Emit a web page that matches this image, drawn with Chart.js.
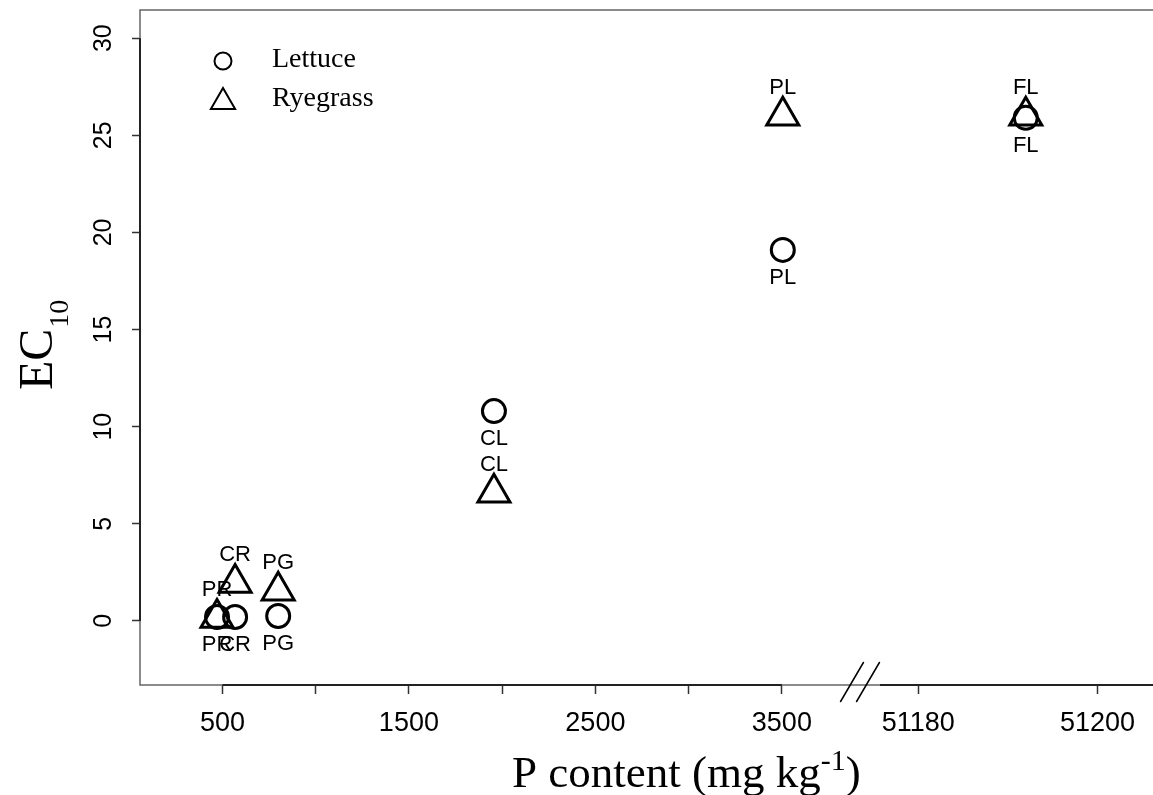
<!DOCTYPE html>
<html><head><meta charset="utf-8">
<script src="https://cdn.jsdelivr.net/npm/chart.js@4.4.0/dist/chart.umd.min.js"></script>
<style>html,body{margin:0;padding:0;background:#fff;}#wrap{width:1153px;height:795px;}</style>
</head><body><div id="wrap"><canvas id="c" width="1153" height="795"></canvas></div>
<script>
// ---- data ----
const soilCodes = ['PR', 'CR', 'PG', 'CL', 'PL', 'FL'];
const pContent = [471, 568, 799, 1956, 3505, 51192];
const lettuceEC10 = [0.2, 0.2, 0.25, 10.8, 19.1, 25.9];
const ryegrassEC10 = [0.15, 1.95, 1.55, 6.6, 26.0, 26.0];
const seriesNames = ['Lettuce', 'Ryegrass'];
const yTicks = [0, 5, 10, 15, 20, 25, 30];
const yTickLabels = ['0', '5', '10', '15', '20', '25', '30'];
const xTicksLeft = [500, 1000, 1500, 2000, 2500, 3000, 3500];
const xTickLabelsLeft = ['500', '', '1500', '', '2500', '', '3500'];
const xTicksRight = [51180, 51200];
const xTickLabelsRight = ['51180', '51200'];
const breakValue = 10000;
const xTitleParts = ['P content (mg kg', '-1', ')'];
const yTitleParts = ['EC', '10'];

const SANS = '"Liberation Sans", Arial, Helvetica, sans-serif';
const SERIF = '"Liberation Serif", "Times New Roman", Times, serif';

function pts(ys, right) {
  return pContent.map((x, i) => ({x: x, y: ys[i], code: soilCodes[i]}))
    .filter(p => right ? p.x > breakValue : p.x <= breakValue);
}
function ds(name, ys, right, style, r, pos) {
  return {
    label: name, data: pts(ys, right), xAxisID: right ? 'x2' : 'x',
    pointStyle: style, pointRadius: r, pointHoverRadius: r,
    pointBorderWidth: 3, pointHoverBorderWidth: 3,
    pointBorderColor: '#000', pointBackgroundColor: 'rgba(0,0,0,0)',
    showLine: false, labelPos: pos
  };
}
const datasets = [
  ds(seriesNames[0], lettuceEC10, false, 'circle', 11.5, 'below'),
  ds(seriesNames[0], lettuceEC10, true, 'circle', 11.5, 'below'),
  ds(seriesNames[1], ryegrassEC10, false, 'triangle', 18.5, 'above'),
  ds(seriesNames[1], ryegrassEC10, true, 'triangle', 18.5, 'above')
];

const decor = {
  id: 'decor',
  afterDatasetsDraw(chart) {
    const ctx = chart.ctx;
    const {left, top, right, bottom} = chart.chartArea;
    const sx = chart.scales.x, sx2 = chart.scales.x2, sy = chart.scales.y;
    ctx.save();
    // box (right edge falls at the canvas edge)
    ctx.strokeStyle = '#666'; ctx.lineWidth = 1.5;
    ctx.beginPath();
    ctx.moveTo(right, top); ctx.lineTo(left, top); ctx.lineTo(left, bottom); ctx.lineTo(right, bottom);
    ctx.stroke();
    // axis lines
    ctx.strokeStyle = '#222'; ctx.lineWidth = 2;
    ctx.beginPath();
    ctx.moveTo(sx.getPixelForValue(xTicksLeft[0]), bottom);
    ctx.lineTo(sx.getPixelForValue(xTicksLeft[xTicksLeft.length - 1]), bottom);
    ctx.moveTo(sx2.left + 20, bottom);
    ctx.lineTo(right, bottom);
    ctx.moveTo(left, sy.getPixelForValue(yTicks[0]));
    ctx.lineTo(left, sy.getPixelForValue(yTicks[yTicks.length - 1]));
    ctx.stroke();
    // break marks
    const bx = sx2.left;
    ctx.strokeStyle = '#000'; ctx.lineWidth = 1.5;
    ctx.beginPath();
    [-8, 8].forEach(d => {
      ctx.moveTo(bx + d - 11.7, bottom + 17);
      ctx.lineTo(bx + d + 11.7, bottom - 23);
    });
    ctx.stroke();
    // y tick labels
    ctx.fillStyle = '#000';
    ctx.font = '25px ' + SANS;
    ctx.textAlign = 'center'; ctx.textBaseline = 'middle';
    yTicks.forEach((v, i) => {
      ctx.save();
      ctx.translate(left - 36, sy.getPixelForValue(v));
      ctx.rotate(-Math.PI / 2);
      ctx.fillText(yTickLabels[i], 0, 0);
      ctx.restore();
    });
    // point labels
    ctx.font = '22px ' + SANS;
    chart.data.datasets.forEach((d, i) => {
      const meta = chart.getDatasetMeta(i);
      meta.data.forEach((el, j) => {
        const off = d.labelPos === 'below' ? 28 : -28;
        ctx.fillText(d.data[j].code, el.x, el.y + off);
      });
    });
    // legend
    const legendItems = [{name: seriesNames[0], style: 'circle', r: 8.5, y: 61}, {name: seriesNames[1], style: 'triangle', r: 14, y: 102}];
    legendItems.forEach(it => {
      ctx.lineWidth = 2; ctx.strokeStyle = '#000'; ctx.fillStyle = 'rgba(0,0,0,0)';
      Chart.helpers.drawPoint(ctx, {pointStyle: it.style, radius: it.r, borderWidth: 2, rotation: 0}, 223, it.y);
      ctx.fillStyle = '#000';
      ctx.font = '28px ' + SERIF;
      ctx.textAlign = 'left'; ctx.textBaseline = 'middle';
      ctx.fillText(it.name, 272, it.name === seriesNames[0] ? 60 : 99);
    });
    // x title
    ctx.textBaseline = 'alphabetic'; ctx.textAlign = 'left';
    ctx.font = '45px ' + SERIF;
    const w0 = ctx.measureText(xTitleParts[0]).width;
    ctx.font = '30px ' + SERIF;
    const w1 = ctx.measureText(xTitleParts[1]).width;
    const tx = 512, by = 787;
    ctx.font = '45px ' + SERIF;
    ctx.fillText(xTitleParts[0], tx, by);
    ctx.font = '30px ' + SERIF;
    ctx.fillText(xTitleParts[1], tx + w0, by - 17);
    ctx.font = '45px ' + SERIF;
    ctx.fillText(xTitleParts[2], tx + w0 + w1, by);
    // y title
    ctx.save();
    ctx.translate(52, 390);
    ctx.rotate(-Math.PI / 2);
    ctx.font = '48px ' + SERIF;
    ctx.fillText(yTitleParts[0], 0, 0);
    const we = ctx.measureText(yTitleParts[0]).width;
    ctx.font = '28px ' + SERIF;
    ctx.fillText(yTitleParts[1], we + 1, 16);
    ctx.restore();
    ctx.restore();
  }
};

const gridOpts = {drawOnChartArea: false, drawTicks: true, tickLength: 9, tickColor: '#333', tickWidth: 1.5, color: '#333'};
function zeroPad(s) { s.paddingLeft = 0; s.paddingRight = 0; s.paddingTop = 0; s.paddingBottom = 0; }

new Chart(document.getElementById('c'), {
  type: 'scatter',
  data: {datasets: datasets},
  options: {
    responsive: false, animation: false, devicePixelRatio: 1, events: [],
    layout: {autoPadding: false, padding: {top: 10, left: 0, right: 0, bottom: 0}},
    plugins: {legend: {display: false}, tooltip: {enabled: false}},
    scales: {
      x: {
        type: 'linear', axis: 'x', position: 'bottom', stack: 'bx', stackWeight: 720,
        min: 58, max: 3919,
        afterBuildTicks: s => { s.ticks = xTicksLeft.map(v => ({value: v})); },
        afterFit: s => { s.height = 110; zeroPad(s); },
        ticks: {callback: (v, i) => xTickLabelsLeft[i], autoSkip: false, maxRotation: 0, minRotation: 0,
                font: {size: 27, family: SANS}, color: '#000', padding: 13},
        grid: gridOpts, border: {display: false}
      },
      x2: {
        type: 'linear', axis: 'x', position: 'bottom', stack: 'bx', stackWeight: 293,
        min: 51173.5, max: 51206.2,
        afterBuildTicks: s => { s.ticks = xTicksRight.map(v => ({value: v})); },
        afterFit: s => { s.height = 110; zeroPad(s); },
        ticks: {callback: (v, i) => xTickLabelsRight[i], autoSkip: false, maxRotation: 0, minRotation: 0,
                font: {size: 27, family: SANS}, color: '#000', padding: 13},
        grid: gridOpts, border: {display: false}
      },
      y: {
        type: 'linear', position: 'left', min: -3.3, max: 31.45,
        afterBuildTicks: s => { s.ticks = yTicks.map(v => ({value: v})); },
        afterFit: s => { s.width = 140; zeroPad(s); },
        ticks: {display: false},
        grid: {drawOnChartArea: false, drawTicks: true, tickLength: 8, tickColor: '#333', tickWidth: 1.5},
        border: {display: false}
      }
    }
  },
  plugins: [decor]
});
</script>
</body></html>
